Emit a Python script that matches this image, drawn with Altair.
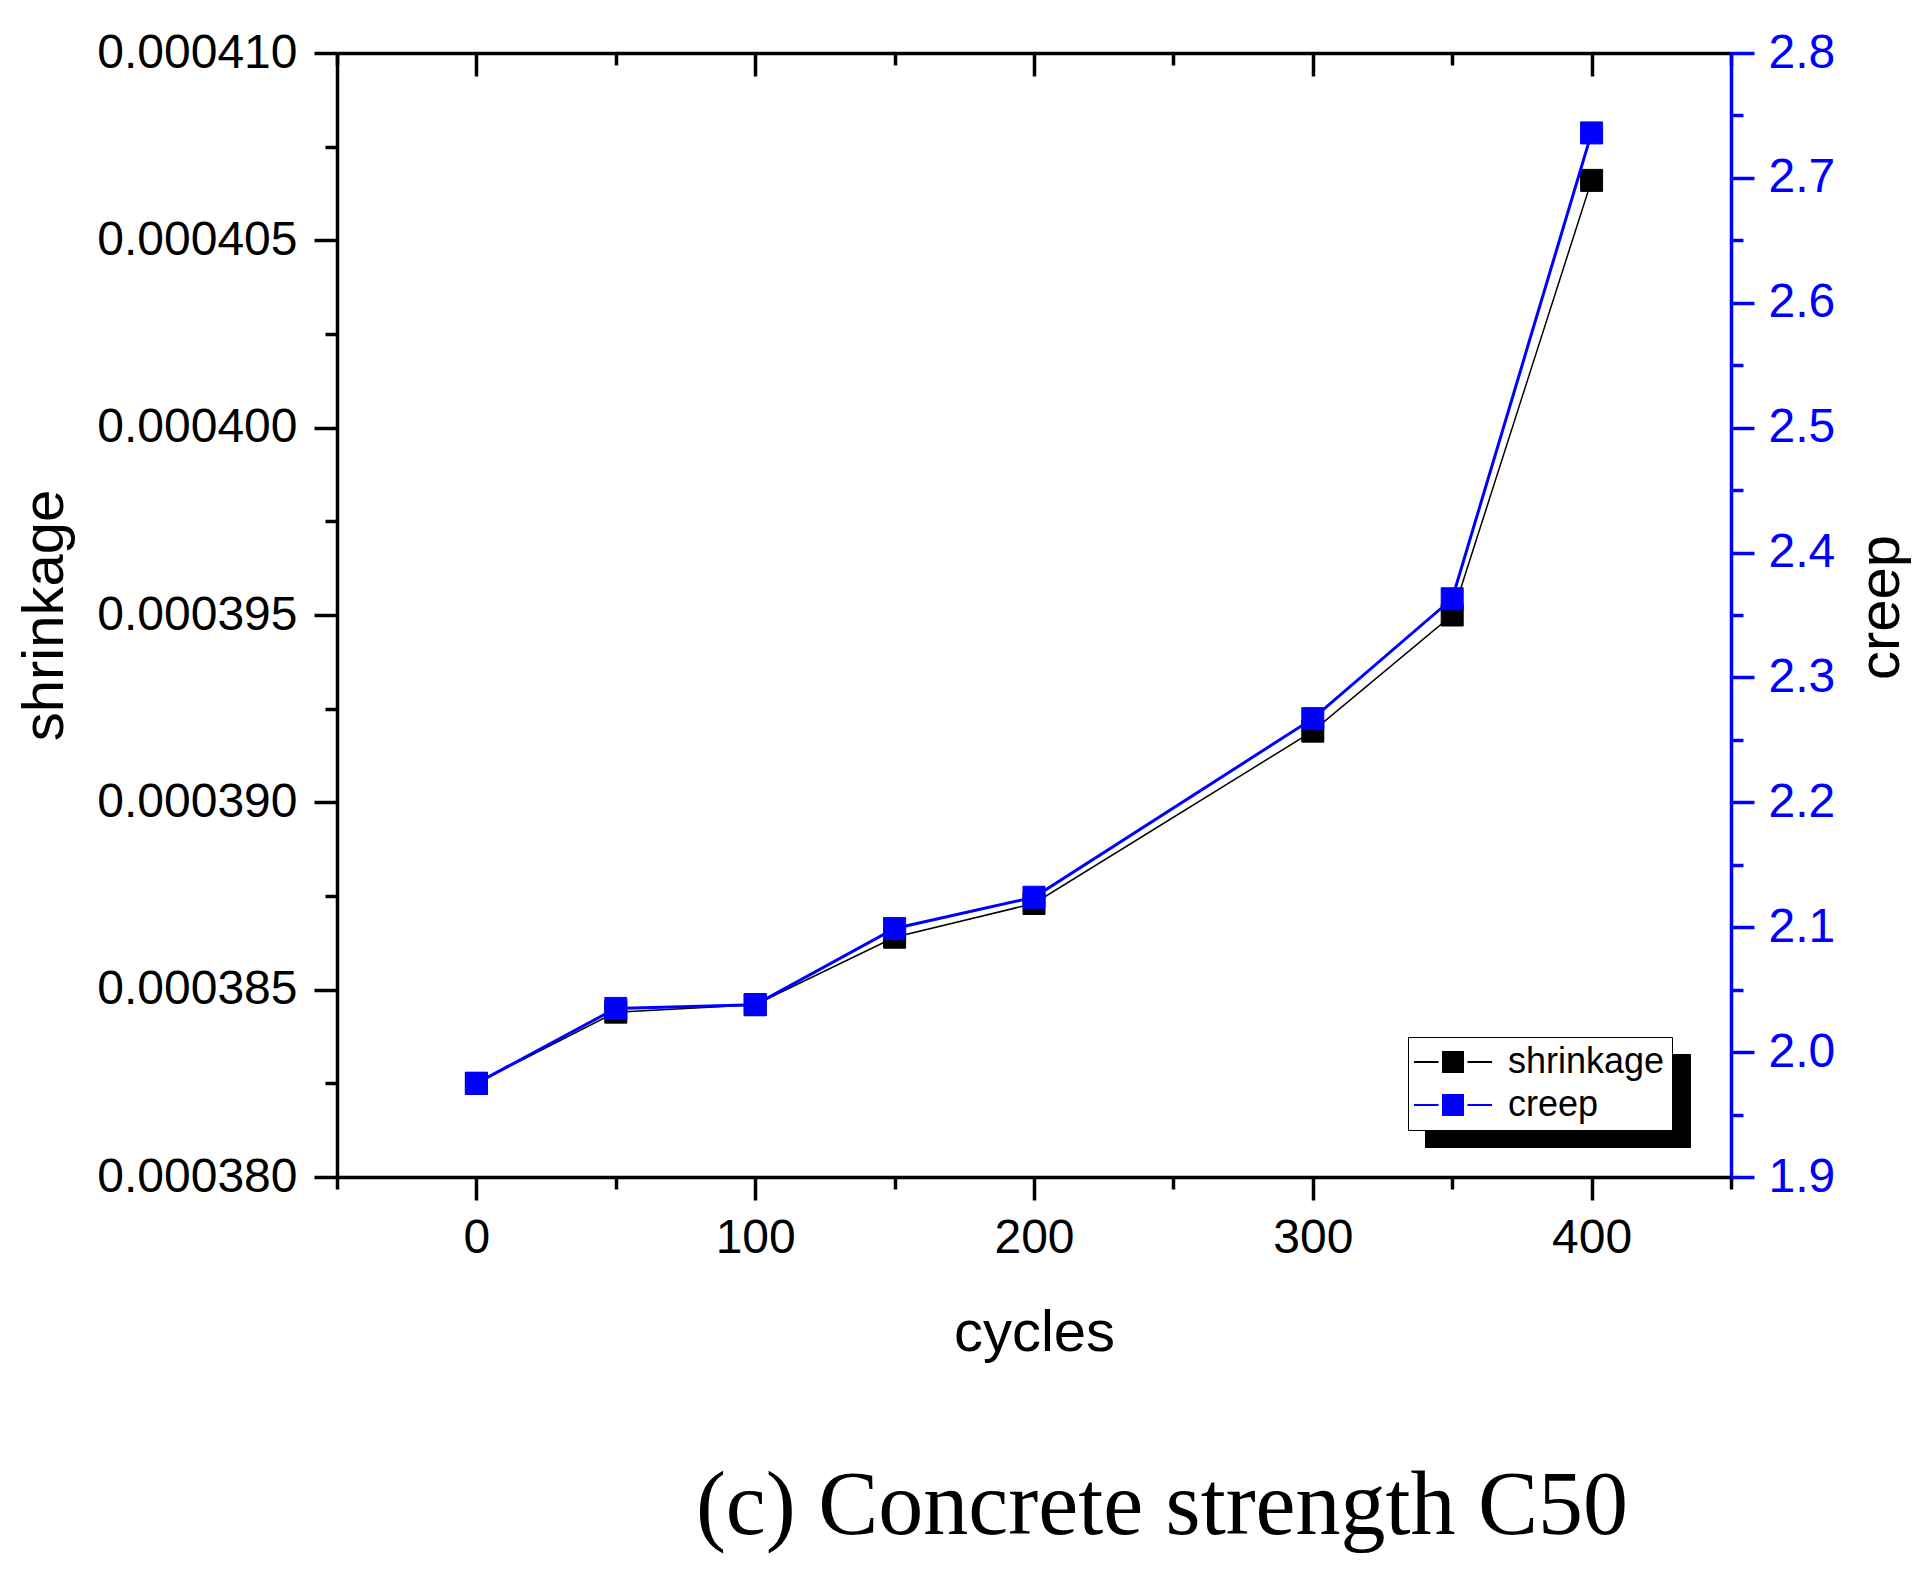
import altair as alt
import pandas as pd

# ---- data ----
cycles = [0, 50, 100, 150, 200, 300, 350, 400]
shrinkage = [0.0003825, 0.0003844, 0.0003846, 0.0003864, 0.0003873, 0.0003919, 0.0003950, 0.0004066]
creep = [1.975, 2.035, 2.038, 2.099, 2.124, 2.267, 2.363, 2.736]

series_names = ["shrinkage", "creep"]
series_colors = ["#000000", "#0000ff"]

x_ticks = [-50, 0, 50, 100, 150, 200, 250, 300, 350, 400, 450]
left_ticks = [0.000380, 0.0003825, 0.000385, 0.0003875, 0.000390, 0.0003925, 0.000395,
              0.0003975, 0.000400, 0.0004025, 0.000405, 0.0004075, 0.000410]
right_ticks = [1.9, 1.95, 2.0, 2.05, 2.1, 2.15, 2.2, 2.25, 2.3, 2.35, 2.4, 2.45,
               2.5, 2.55, 2.6, 2.65, 2.7, 2.75, 2.8]

df_s = pd.DataFrame({"cycles": cycles, "value": shrinkage, "series": series_names[0]})
df_c = pd.DataFrame({"cycles": cycles, "value": creep, "series": series_names[1],
                     "shadow": series_names[1]})

FONT = "Liberation Sans"
SOLID = [1000, 0]
MINOR = [12, 1000]

x_major = "datum.value % 100 === 0"
l_major = "abs(datum.value*1e6 - round(datum.value*1e6/5)*5) < 0.01"
r_major = "abs(datum.value*10 - round(datum.value*10)) < 0.01"


def dash(test):
    return {"condition": {"test": test, "value": SOLID}, "value": MINOR}


x_bottom = alt.Axis(orient="bottom", values=x_ticks, title="cycles",
                    labelExpr=f"{x_major} ? format(datum.value, 'd') : ''",
                    tickSize=23, tickDash=dash(x_major), labelPadding=14,
                    labelOverlap=False, labelFlush=False,
                    titleBaseline="alphabetic", titleY=173, grid=False)
x_top = alt.Axis(orient="top", values=x_ticks, labels=False, title=None,
                 tickSize=alt.ExprRef(expr="-23"), tickDash=dash(x_major), grid=False)
y_left = alt.Axis(orient="left", values=left_ticks, title="shrinkage",
                  labelExpr=f"{l_major} ? format(datum.value, '.6f') : ''",
                  tickSize=23, tickDash=dash(l_major), labelPadding=17, labelLimit=1000,
                  labelOverlap=False, titleAngle=270, titleBaseline="middle",
                  titleX=-292, grid=False)
y_right = alt.Axis(orient="right", values=right_ticks, title="creep",
                   labelExpr=f"{r_major} ? format(datum.value, '.1f') : ''",
                   tickSize=23, tickDash=dash(r_major), labelPadding=14,
                   labelOverlap=False, labelColor="#0000ff", domainColor="#0000ff",
                   tickColor="#0000ff", titleColor="black", titleAngle=270,
                   titleBaseline="middle", titleX=150, titleY=554, grid=False)

x_scale = alt.Scale(domain=[-50, 450], nice=False, zero=False)
yl_scale = alt.Scale(domain=[0.000380, 0.000410], nice=False, zero=False)
yr_scale = alt.Scale(domain=[1.9, 2.8], nice=False, zero=False)
col_scale = alt.Scale(domain=series_names, range=series_colors)

# legend symbol: line - gap - square - gap - line (square spans -1..1)
SYMBOL = "M-3.9,0H-1.45M1.45,0H3.9M-1,-1H1V1H-1Z"
legend_common = dict(title=None, orient="none", symbolType=SYMBOL, symbolSize=400,
                     symbolStrokeWidth=2, symbolOffset=20, labelFont=FONT,
                     labelFontSize=36, padding=7, rowPadding=7)
main_legend = alt.Legend(legendX=1071, legendY=984, labelColor="black",
                         fillColor="white", strokeColor="black", zindex=2,
                         labelOffset=37, **legend_common)
# drop shadow behind the legend box (blank labels, widened by the label offset)
blank = "\u00a0"
shadow_legend = alt.Legend(legendX=1088, legendY=1001, labelColor="black",
                           fillColor="black", strokeColor="black",
                           symbolFillColor="black", symbolStrokeColor="black",
                           labelExpr=f"'{blank}'", labelOffset=195, zindex=1,
                           **legend_common)

# shrinkage layer (left axis, bottom axis)
bs = alt.Chart(df_s)
xs = alt.X("cycles:Q", scale=x_scale, axis=x_bottom)
ys = alt.Y("value:Q", scale=yl_scale, axis=y_left)
line_s = bs.mark_line(color="black", strokeWidth=1.5).encode(x=xs, y=ys)
pt_s = bs.mark_point(shape="square", filled=True, size=484, strokeWidth=1, opacity=1).encode(
    x=xs, y=ys,
    fill=alt.Fill("series:N", scale=col_scale, legend=main_legend),
    stroke=alt.Stroke("series:N", scale=col_scale, legend=main_legend),
)
layer_s = alt.layer(line_s, pt_s)

# creep layer (right axis, top axis)
bc = alt.Chart(df_c)
xc = alt.X("cycles:Q", scale=x_scale, axis=x_top)
yc = alt.Y("value:Q", scale=yr_scale, axis=y_right)
line_c = bc.mark_line(color="#0000ff", strokeWidth=3).encode(x=xc, y=yc)
pt_c = bc.mark_point(shape="square", filled=True, size=484, strokeWidth=1).encode(
    x=xc, y=yc,
    fill=alt.Fill("series:N", scale=col_scale, legend=main_legend),
    stroke=alt.Stroke("series:N", scale=col_scale, legend=main_legend),
    opacity=alt.Opacity("shadow:N",
                        scale=alt.Scale(domain=series_names[::-1], range=[1, 1]),
                        legend=shadow_legend),
)
layer_c = alt.layer(line_c, pt_c)

chart = alt.layer(layer_s, layer_c).resolve_scale(y="independent").resolve_axis(
    x="independent", y="independent"
).properties(
    width=1394, height=1124, autosize="none",
    padding={"left": 329, "top": 45, "right": 184, "bottom": 395},
    title=alt.TitleParams("(c) Concrete strength C50", orient="bottom", anchor="middle",
                          font="Liberation Serif", fontSize=90,
                          fontWeight="normal", color="black", baseline="alphabetic",
                          offset=172, dx=128),
).configure_view(strokeWidth=0).configure_axis(
    labelFont=FONT, labelFontSize=48, labelColor="black", titleFont=FONT,
    titleFontSize=58, titleFontWeight="normal", titleColor="black",
    domainColor="black", domainWidth=3.5, tickColor="black", tickWidth=3.5,
)

chart.save("out.html", embed_options={"renderer": "svg", "actions": False})
